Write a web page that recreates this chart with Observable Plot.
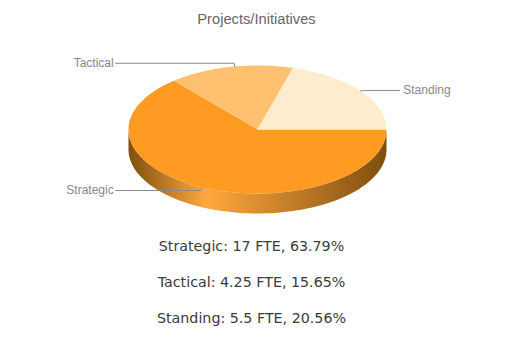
<!DOCTYPE html>
<html><head><meta charset="utf-8">
<script src="https://cdn.jsdelivr.net/npm/d3@7"></script>
<script src="https://cdn.jsdelivr.net/npm/@observablehq/plot@0.6"></script>
<style>
html,body{margin:0;background:#fff}
#cap{width:503px;padding-top:3px;text-align:center;font:14.25px "DejaVu Sans",sans-serif;color:#3a3a3a}
#cap div{height:36px;line-height:36px}
svg{display:block}
</style></head><body>
<div id="chart"></div><div id="cap"></div>
<script>
const categories = ["Strategic", "Tactical", "Standing"];
const shares = [63.79, 15.65, 20.56];
const fte = ["17", "4.25", "5.5"];
const colors = ["#ff9a22", "#ffc070", "#ffebcd"];
const chartTitle = "Projects/Initiatives";

const DEPTH = 0.3125;
const rad = d => d * Math.PI / 180;
let start = 0;
const slices = [], midAngles = [];
categories.forEach((name, i) => {
  const end = start + shares[i] * 3.6;
  slices.push({name, x: 0, y: 0});
  for (let a = start; a < end; a += 1) slices.push({name, x: Math.cos(rad(a)), y: -Math.sin(rad(a))});
  slices.push({name, x: Math.cos(rad(end)), y: -Math.sin(rad(end))});
  midAngles.push((start + end) / 2);
  start = end;
});
// Front wall: the lower half of the rim, then the same half shifted down by the pie's depth
const rim = d3.range(0, 181, 2).map(a => ({x: Math.cos(rad(a)), y: -Math.sin(rad(a))}));
const wall = [...rim, ...rim.slice().reverse().map(p => ({x: p.x, y: p.y - DEPTH}))];

const labelSpots = [
  {name: "Strategic", x: -1.115, y: -0.953, elbow: -0.025, shift: 0},
  {name: "Tactical", x: -1.115, y: 1.035, elbow: -0.005, shift: 2},
  {name: "Standing", x: 1.13, y: 0.61, elbow: 0.045, shift: 0}
];
const leaders = labelSpots.flatMap((l, i) => {
  const a = rad(midAngles[i] + l.shift);
  const px = Math.cos(a), py = -Math.sin(a);
  return [
    {name: l.name, x: px, y: py},
    {name: l.name, x: px + l.elbow, y: l.y},
    {name: l.name, x: l.x + (l.x < 0 ? 0.015 : -0.03), y: l.y}
  ];
});

const sliceColor = d3.scaleOrdinal(categories, colors);
const plot = Plot.plot({
  width: 518, height: 225, margin: 0,
  style: {background: "#fff"},
  x: {domain: [-1, 1], range: [128, 386], axis: null},
  y: {domain: [-1, 1], range: [193, 65], axis: null},
  marks: [
    () => {
      const defs = d3.create("svg:defs");
      const g = defs.append("linearGradient").attr("id", "wallGrad");
      [[0, "#7f4e0f"], [0.3, "#ffa83e"], [1, "#7f4e0f"]].forEach(([o, c]) =>
        g.append("stop").attr("offset", o).attr("stop-color", c));
      return defs.node();
    },
    Plot.line(wall, {x: "x", y: "y", stroke: null, fill: "url(#wallGrad)", curve: "linear"}),
    Plot.line(slices, {x: "x", y: "y", z: "name", stroke: null, fill: d => sliceColor(d.name), curve: "linear"}),
    Plot.line(leaders, {x: "x", y: "y", z: "name", stroke: "#888", strokeWidth: 1, curve: "linear"}),
    Plot.text(labelSpots.filter(l => l.x < 0), {x: "x", y: "y", text: "name", textAnchor: "end", fill: "#888", fontSize: 12, fontFamily: "Liberation Sans"}),
    Plot.text(labelSpots.filter(l => l.x > 0), {x: "x", y: "y", text: "name", textAnchor: "start", fill: "#888", fontSize: 12, fontFamily: "Liberation Sans"}),
    Plot.text([chartTitle], {frameAnchor: "top", dx: -3, dy: 13, fill: "#666", fontSize: 14.7, fontFamily: "Liberation Sans"})
  ]
});
document.getElementById("chart").append(plot);
const cap = document.getElementById("cap");
categories.forEach((c, i) => {
  const d = document.createElement("div");
  d.textContent = `${c}: ${fte[i]} FTE, ${shares[i].toFixed(2)}%`;
  cap.append(d);
});
</script>
</body></html>
